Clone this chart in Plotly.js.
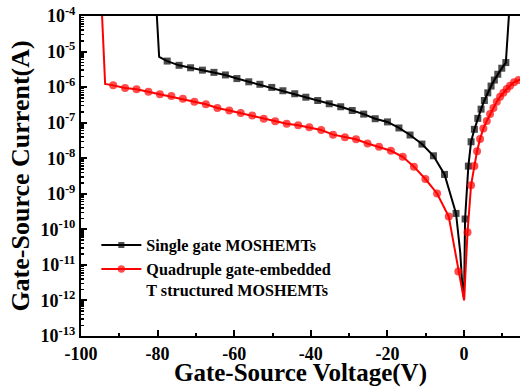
<!DOCTYPE html>
<html>
<head>
<meta charset="utf-8">
<script src="https://cdn.plot.ly/plotly-3.0.1.min.js"></script>
<style>
html,body{margin:0;padding:0;background:#fff;}
#chart{width:520px;height:392px;}
</style>
</head>
<body>
<div id="chart"></div>
<script>
// ---------- Data ----------
const seriesNames = ['Single gate MOSHEMTs', 'Quadruple gate-embedded<br>T structured MOSHEMTs'];
const xTitle = 'Gate-Source Voltage(V)';
const yTitle = 'Gate-Source Current(A)';

// Single gate MOSHEMTs
const singleRiseV = [-80.2, -79.6];
const singleRiseI = [1e-4, 7.1e-6];
const singleNegV = [-77.5, -74.4, -71.4, -68.3, -65.3, -62.3, -59.3, -56.2, -53.3, -50.2, -47.3, -44.2, -41.3,
  -38.2, -35.2, -32.2, -29.2, -26.2, -23.2, -20.0, -17.0, -14.1, -11.0, -8.0, -5.1, -2.1];
const singleNegI = [5.4e-6, 4.1e-6, 3.5e-6, 3.0e-6, 2.6e-6, 2.2e-6, 1.74e-6, 1.41e-6, 1.20e-6, 9.8e-7, 7.9e-7, 6.5e-7, 5.2e-7,
  4.2e-7, 3.4e-7, 2.8e-7, 2.2e-7, 1.74e-7, 1.29e-7, 1.05e-7, 7.1e-8, 4.5e-8, 2.5e-8, 1.17e-8, 3.5e-9, 2.8e-10];
const singleDipV = [-1.0, -0.44, 0.0];
const singleDipI = [2.2e-11, 2.5e-12, 1.1e-12];
const singlePosV = [0.26, 1.12, 1.83, 2.69, 3.58, 4.44, 5.30, 6.19, 7.05, 7.91, 8.80, 9.84, 10.9];
const singlePosI = [1.95e-10, 6.0e-9, 2.9e-8, 6.5e-8, 1.32e-7, 2.4e-7, 4.2e-7, 6.9e-7, 1.07e-6, 1.58e-6, 2.3e-6, 3.4e-6, 4.9e-6];
const singleEndV = [11.7];
const singleEndI = [1e-4];

// Quadruple gate-embedded T structured MOSHEMTs
const quadRiseV = [-94.5, -93.7];
const quadRiseI = [1e-4, 1.23e-6];
const quadNegV = [-91.6, -88.5, -85.5, -82.4, -79.4, -76.4, -73.4, -70.4, -67.4, -64.4, -61.3, -58.3, -55.3, -52.3,
  -49.3, -46.3, -43.3, -40.4, -37.3, -34.2, -31.1, -28.2, -25.2, -22.2, -19.1, -16.0, -13.1, -10.1, -7.05, -4.0, -1.5];
const quadNegI = [1.12e-6, 9.5e-7, 8.7e-7, 7.4e-7, 6.3e-7, 5.6e-7, 4.7e-7, 3.9e-7, 3.3e-7, 2.6e-7, 2.2e-7, 1.86e-7, 1.58e-7, 1.29e-7,
  1.10e-7, 9.3e-8, 8.5e-8, 7.4e-8, 6.2e-8, 4.6e-8, 3.9e-8, 3.4e-8, 2.6e-8, 2.1e-8, 1.62e-8, 1.10e-8, 5.8e-9, 2.6e-9, 1.02e-9, 2.3e-10, 6.5e-12];
const quadDipV = [0.0];
const quadDipI = [1.0e-12];
const quadPosV = [0.9, 1.83, 2.69, 3.39, 4.18, 5.04, 5.93, 6.79, 7.65, 8.54, 9.4, 10.26, 11.15, 12.0, 13.05, 14.2];
const quadPosI = [8.3e-11, 1.74e-9, 6.0e-9, 1.58e-8, 3.5e-8, 6.9e-8, 1.12e-7, 1.74e-7, 2.6e-7, 3.9e-7, 5.4e-7, 6.9e-7, 8.9e-7, 1.10e-6, 1.38e-6, 1.58e-6];
const quadEndV = [15.0];
const quadEndI = [1.7e-6];

// Axis ticks
const xTickVals = [-100, -80, -60, -40, -20, 0];
const xTickText = ['-100', '-80', '-60', '-40', '-20', '0'];
const yExponents = [-13, -12, -11, -10, -9, -8, -7, -6, -5, -4];

// ---------- Build ----------
const FONT = '"Times New Roman", "Liberation Serif", serif';

function buildTrace(name, rise, neg, dip, pos, end, color, symbol, msize) {
  const segs = [[rise, false], [neg, true], [dip, false], [pos, true], [end, false]];
  const x = [], y = [], s = [];
  segs.forEach(([seg, marked]) => {
    seg[0].forEach((v, i) => { x.push(v); y.push(seg[1][i]); s.push(marked ? msize : 0); });
  });
  return {
    type: 'scatter', mode: 'lines+markers', name: '<b>' + name + '</b>', x: x, y: y,
    line: {color: color, width: 2},
    marker: {color: color, symbol: symbol, size: s, line: {width: 0}},
    cliponaxis: true
  };
}

const traces = [
  buildTrace(seriesNames[0], [singleRiseV, singleRiseI], [singleNegV, singleNegI], [singleDipV, singleDipI],
    [singlePosV, singlePosI], [singleEndV, singleEndI], '#000000', 'square', 7),
  buildTrace(seriesNames[1], [quadRiseV, quadRiseI], [quadNegV, quadNegI], [quadDipV, quadDipI],
    [quadPosV, quadPosI], [quadEndV, quadEndI], '#ff0000', 'circle', 8)
];

const xMinor = [];
for (let v = -90; v <= 10; v += 20) xMinor.push(v);
const yTickVals = yExponents.map(e => Math.pow(10, e));
const yTickText = yExponents.map(e => '10<sup>' + e + '</sup>');
const yMinor = [];
for (let e = -13; e < -4; e++) for (let m = 2; m <= 9; m++) yMinor.push(m * Math.pow(10, e));

const layout = {
  width: 520, height: 392,
  margin: {l: 81, r: 0, t: 16, b: 56, pad: 0},
  paper_bgcolor: '#ffffff', plot_bgcolor: '#ffffff',
  font: {family: FONT, color: '#000000'},
  showlegend: true,
  xaxis: {
    range: [-100, 14.6],
    tickmode: 'array', tickvals: xTickVals, ticktext: xTickText,
    ticks: 'inside', ticklen: 6, tickwidth: 2, tickcolor: '#000',
    minor: {tickmode: 'array', tickvals: xMinor, ticks: 'inside', ticklen: 3, tickwidth: 2, tickcolor: '#000', showgrid: false},
    showline: true, linewidth: 2, linecolor: '#000', mirror: true,
    showgrid: false, zeroline: false,
    tickfont: {family: FONT, size: 18, weight: 'bold', color: '#000'}
  },
  yaxis: {
    type: 'log', range: [-13, -4],
    tickmode: 'array', tickvals: yTickVals, ticktext: yTickText,
    ticks: 'inside', ticklen: 6, tickwidth: 2, tickcolor: '#000',
    minor: {tickmode: 'array', tickvals: yMinor, ticks: 'inside', ticklen: 3, tickwidth: 1.5, tickcolor: '#000', showgrid: false},
    showline: true, linewidth: 2, linecolor: '#000', mirror: false,
    showgrid: false, zeroline: false,
    tickfont: {family: FONT, size: 18, weight: 'bold', color: '#000'},
    title: {text: yTitle, font: {family: FONT, size: 26, weight: 'bold', color: '#000'}, standoff: 4}
  },
  annotations: [{
    text: '<b>' + xTitle + '</b>', xref: 'paper', yref: 'paper', x: 0.5, y: -0.117,
    xanchor: 'center', yanchor: 'middle', showarrow: false,
    font: {family: FONT, size: 25, weight: 'bold', color: '#000'}
  }],
  legend: {
    x: 0.035, y: 0.3375, xanchor: 'left', yanchor: 'top',
    bgcolor: 'rgba(0,0,0,0)', borderwidth: 0,
    itemwidth: 40,
    font: {family: FONT, size: 16.154, weight: 'bold', color: '#000'},
    valign: 'top', tracegroupgap: 0
  }
};

Plotly.newPlot('chart', traces, layout, {displayModeBar: false, staticPlot: true});
</script>
</body>
</html>
